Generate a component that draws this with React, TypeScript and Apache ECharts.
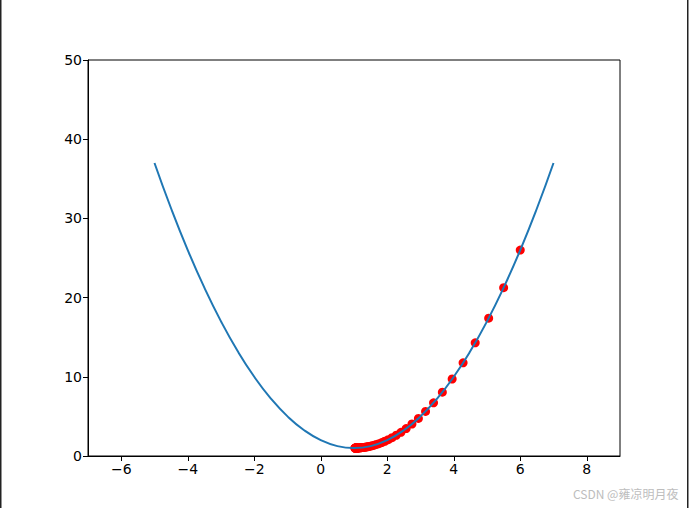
import React, { useEffect, useRef } from "react";
import * as echarts from "echarts";

const curveX = [-5, -4.5, -4, -3.5, -3, -2.5, -2, -1.5, -1, -0.5, 0, 0.5, 1, 1.5, 2, 2.5, 3, 3.5, 4, 4.5, 5, 5.5, 6, 6.5, 7];
const curveY = [37, 31.25, 26, 21.25, 17, 13.25, 10, 7.25, 5, 3.25, 2, 1.25, 1, 1.25, 2, 3.25, 5, 7.25, 10, 13.25, 17, 21.25, 26, 31.25, 37];

const stepX = [6, 5.5, 5.05, 4.645, 4.281, 3.952, 3.657, 3.392, 3.152, 2.937, 2.743, 2.569, 2.412, 2.271, 2.144, 2.030, 1.927, 1.834, 1.751, 1.675, 1.608, 1.547, 1.492, 1.443, 1.399, 1.359, 1.323, 1.291, 1.262, 1.236, 1.212, 1.191, 1.172, 1.155, 1.139, 1.125, 1.113, 1.101, 1.091, 1.082, 1.074, 1.067, 1.060, 1.054, 1.048, 1.044, 1.039, 1.035, 1.032, 1.029];
const stepY = [26, 21.25, 17.4, 14.29, 11.76, 9.72, 8.06, 6.72, 5.63, 4.75, 4.04, 3.46, 2.99, 2.62, 2.31, 2.06, 1.86, 1.70, 1.56, 1.46, 1.37, 1.30, 1.24, 1.20, 1.16, 1.13, 1.10, 1.08, 1.07, 1.06, 1.045, 1.036, 1.03, 1.024, 1.019, 1.016, 1.013, 1.01, 1.008, 1.007, 1.005, 1.004, 1.004, 1.003, 1.002, 1.002, 1.002, 1.001, 1.001, 1.001];

const xRange = { min: -7, max: 9 };
const xTickValues = [-6, -4, -2, 0, 2, 4, 6, 8];
const yTicks = { min: 0, max: 50, interval: 10 };
const watermark = "CSDN @雍凉明月夜";

export default function App() {
  const ref = useRef<HTMLDivElement>(null);
  useEffect(() => {
    if (!ref.current) return;
    const chart = echarts.init(ref.current, null, { renderer: "svg" });
    const fmt = (v: number) => String(v).replace("-", "\u2212");
    const line = { show: true, onZero: false, lineStyle: { color: "#000", width: 1 } };
    const tick = { show: true, inside: false, length: 5, lineStyle: { color: "#000", width: 1 } };
    const label = { color: "#000", fontSize: 14, fontFamily: "DejaVu Sans", margin: 6, formatter: fmt };
    chart.setOption({
      animation: false,
      backgroundColor: "#fff",
      grid: { left: 88, top: 60, right: 69, bottom: 52, show: true, borderColor: "#000", borderWidth: 1, backgroundColor: "transparent" },
      xAxis: {
        type: "value",
        ...xRange,
        axisLine: line,
        axisTick: { ...tick, customValues: xTickValues },
        axisLabel: { ...label, customValues: xTickValues },
        splitLine: { show: false },
      },
      yAxis: {
        type: "value",
        ...yTicks,
        axisLine: line,
        axisTick: tick,
        axisLabel: label,
        splitLine: { show: false },
      },
      series: [
        {
          type: "scatter",
          data: stepX.map((x, i) => [x, stepY[i]]),
          symbolSize: 9,
          itemStyle: { color: "#ff0000", opacity: 1 },
          z: 2,
        },
        {
          type: "line",
          data: curveX.map((x, i) => [x, curveY[i]]),
          smooth: 0.5,
          showSymbol: false,
          symbol: "none",
          lineStyle: { color: "#1f77b4", width: 2 },
          z: 3,
        },
      ],
      graphic: [
        { type: "rect", shape: { x: 0, y: 0, width: 1.5, height: 508 }, style: { fill: "#222" } },
        { type: "rect", shape: { x: 687, y: 0, width: 1.5, height: 508 }, style: { fill: "#222" } },
        {
          type: "text",
          x: 573,
          y: 487,
          style: { text: watermark, fill: "#bdbdbd", fontSize: 12, fontFamily: "Noto Sans CJK SC" },
        },
      ],
    });
    return () => chart.dispose();
  }, []);
  return <div ref={ref} style={{ position: "fixed", left: 0, top: 0, width: 689, height: 508 }} />;
}
